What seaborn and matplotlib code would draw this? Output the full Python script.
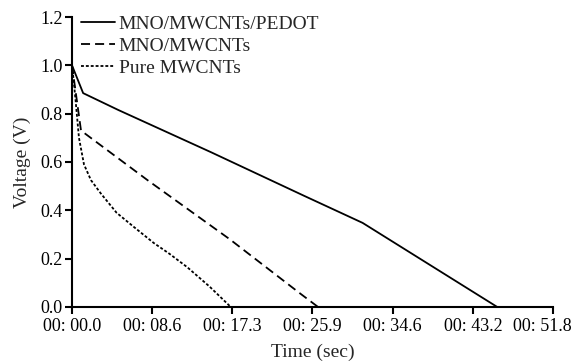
import matplotlib

matplotlib.use("Agg")

import matplotlib.pyplot as plt
import matplotlib.transforms as mtransforms
import pandas as pd
import seaborn as sns

# discharge curves (time in sec, voltage in V)
pedot_t = [0.0, 1.2, 5.0, 15.0, 25.0, 31.3, 45.8]
pedot_v = [1.0, 0.885, 0.815, 0.64, 0.46, 0.348, 0.0]

mno_t = [0.0, 0.97, 8.2, 17.0, 24.6, 26.5]
mno_v = [1.0, 0.73, 0.523, 0.28, 0.055, 0.0]

pure_t = [0.0, 0.2, 0.43, 0.75, 1.29, 2.04, 3.1, 4.8, 6.7, 8.8, 10.5, 12.4, 14.8, 17.1]
pure_v = [1.0, 0.93, 0.836, 0.70, 0.59, 0.525, 0.47, 0.39, 0.33, 0.265, 0.22, 0.165, 0.085, 0.0]

x_ticks = [0.0, 8.63, 17.27, 25.9, 34.53, 43.17, 51.8]
x_labels = ["00: 00.0", "00: 08.6", "00: 17.3", "00: 25.9", "00: 34.6", "00: 43.2", "00: 51.8"]
y_ticks = [0.0, 0.2, 0.4, 0.6, 0.8, 1.0, 1.2]

series = [
    ("MNO/MWCNTs/PEDOT", pedot_t, pedot_v, "-"),
    ("MNO/MWCNTs", mno_t, mno_v, (0, (5, 2.8))),
    ("Pure MWCNTs", pure_t, pure_v, (0, (1.6, 1.1))),
]

sns.set_theme(style="ticks")
plt.rcParams["font.family"] = ["Liberation Serif", "DejaVu Serif"]

fig = plt.figure(figsize=(5.76, 3.62), dpi=100)
ax = fig.add_axes([0.125, 0.152, 0.835, 0.801])

for name, t, v, ls in series:
    df = pd.DataFrame({"t": t, "v": v})
    sns.lineplot(data=df, x="t", y="v", ax=ax, color="black", linewidth=1.3,
                 linestyle=ls, label=name, sort=False)

ax.set_xlim(0, 51.8)
ax.set_ylim(0, 1.2)
ax.set_xticks(x_ticks)
ax.set_xticklabels(x_labels)
ax.set_yticks(y_ticks)
ax.set_yticklabels([f"{y:.1f}" for y in y_ticks])
ax.set_xlabel("Time (sec)", fontsize=14, labelpad=6)
ax.set_ylabel("Voltage (V)", fontsize=14, labelpad=7)
ax.tick_params(axis="both", direction="out", length=5, width=1.5,
               labelsize=13, color="black", labelcolor="black", pad=1.5)
ax.tick_params(axis="x", pad=3)
for side in ["left", "bottom"]:
    ax.spines[side].set_linewidth(1.5)
    ax.spines[side].set_color("black")
sns.despine(ax=ax)

# last tick label is pulled in so it stays inside the figure
last = ax.get_xticklabels()[-1]
last.set_horizontalalignment("right")
last.set_transform(last.get_transform() +
                   mtransforms.ScaledTranslation(0.19, 0, fig.dpi_scale_trans))

ax.legend(loc="upper left", bbox_to_anchor=(-0.018, 1.065), frameon=False,
          fontsize=14, handlelength=1.75, handletextpad=0.2,
          labelspacing=0.22, borderaxespad=0.5)

fig.savefig("out.png", dpi=100)
